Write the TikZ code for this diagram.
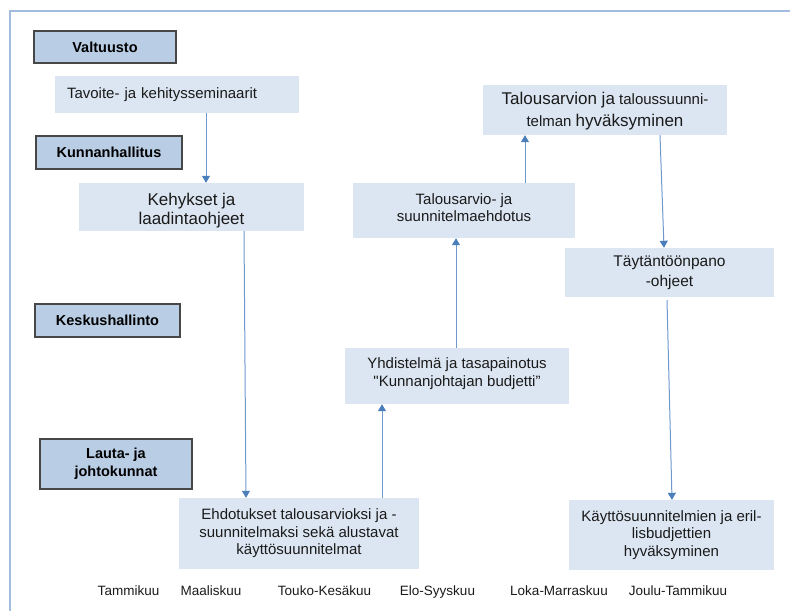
\documentclass[tikz,border=0pt]{standalone}
\usepackage{fontspec}
\setmainfont{Liberation Sans}[Ligatures=TeXOff]
\usetikzlibrary{arrows.meta}
\definecolor{headfill}{HTML}{B9CDE5}
\definecolor{boxfill}{HTML}{DCE6F2}
\definecolor{arrowblue}{HTML}{6F98CC}
\definecolor{headblue}{HTML}{4A7EBB}
\definecolor{frameblue}{HTML}{A2BCDD}
\definecolor{txt}{HTML}{1A1A1A}
\newcommand{\nf}{\fontsize{15}{17.5}\selectfont}
\newcommand{\bigf}{\fontsize{17}{19.5}\selectfont}
\tikzset{
  head/.style={draw=black!72, line width=1.2pt, fill=headfill, inner sep=0pt, align=center,
    font=\fontsize{14.5}{18}\selectfont\bfseries, text=black},
  stepbox/.style={fill=boxfill, inner sep=0pt, align=center, text=txt},
  boxtext/.style={inner sep=0pt, align=center, text=txt, font=\nf},
  month/.style={inner sep=0pt, anchor=base, font=\fontsize{13.5}{16}\selectfont, text=txt},
  arr/.style={draw=arrowblue, line width=1pt, -{Triangle[width=8pt,length=7pt,color=headblue]}},
  frame/.style={draw=frameblue, line width=1.4pt}
}
\begin{document}
\begin{tikzpicture}[x=1pt,y=-1pt]
\useasboundingbox (0,0) rectangle (790,611);
\draw[frame] (10,611) -- (10,11) -- (790,11);

% headings
\node[head, minimum width=142pt, minimum height=32pt] (valt) at (105,47) {Valtuusto};
\node[head, minimum width=146pt, minimum height=33pt] (kunn) at (109,152.5) {Kunnanhallitus};
\node[head, minimum width=145pt, minimum height=33pt] (kesk) at (107.5,320.5) {Keskushallinto};
\node[head, minimum width=152pt, minimum height=50pt] (laut) at (116,464) {Lauta- ja\\johtokunnat};

% step boxes
\node[stepbox, minimum width=244pt, minimum height=37pt, text width=220pt, inner xsep=12pt, align=left, font=\nf] (tav) at (177,94.5) {Tavoite- ja kehitysseminaarit};
\node[stepbox, minimum width=225pt, minimum height=48pt,
  label={[boxtext, font=\fontsize{17}{19}\selectfont, yshift=-4pt]center:Kehykset ja\\laadintaohjeet}] (keh) at (191.5,207) {};
\node[stepbox, minimum width=222pt, minimum height=55pt,
  label={[boxtext, yshift=3pt]center:Talousarvio- ja\\suunnitelmaehdotus}] (tae) at (464,210.5) {};
\node[stepbox, minimum width=244pt, minimum height=50pt,
  label={[boxtext, yshift=-1pt]center:{\bigf Talousarvion ja} taloussuunni-\\[4pt]telman {\bigf hyväksyminen}}] (hyv) at (605,110) {};
\node[stepbox, minimum width=209pt, minimum height=49pt, font=\fontsize{15.5}{20}\selectfont] (tay) at (669.5,272.5) {Täytäntöönpano\\-ohjeet};
\node[stepbox, minimum width=224pt, minimum height=56pt,
  label={[boxtext, yshift=2.5pt]center:Yhdistelmä ja tasapainotus\\"Kunnanjohtajan budjetti”}] (yhd) at (457,376) {};
\node[stepbox, minimum width=240pt, minimum height=71pt, font=\nf] (ehd) at (299,533.5) {Ehdotukset talousarvioksi ja -\\suunnitelmaksi sekä alustavat\\käyttösuunnitelmat};
\node[stepbox, minimum width=205pt, minimum height=70pt, font=\nf] (kay) at (671.5,535) {Käyttösuunnitelmien ja eril-\\lisbudjettien\\hyväksyminen};

% months
\node[month] (m1) at (128.5,595) {Tammikuu};
\node[month] (m2) at (211,595) {Maaliskuu};
\node[month] (m3) at (324.5,595) {Touko-Kesäkuu};
\node[month] (m4) at (437.5,595) {Elo-Syyskuu};
\node[month] (m5) at (559,595) {Loka-Marraskuu};
\node[month] (m6) at (678,595) {Joulu-Tammikuu};

% arrows
\draw[arr] ([xshift=29pt]tav.south) -- ([xshift=14.5pt]keh.north);
\draw[arr] ([xshift=52.5pt]keh.south) -- ([xshift=-53pt]ehd.north);
\draw[arr] ([xshift=83pt]ehd.north) -- ([xshift=-75pt]yhd.south);
\draw[arr] ([xshift=-1pt]yhd.north) -- ([xshift=-8pt]tae.south);
\draw[arr] ([xshift=61pt]tae.north) -- ([xshift=-80pt]hyv.south);
\draw[arr] ([xshift=55pt]hyv.south) -- ([xshift=-5.5pt]tay.north);
\draw[arr] ([xshift=-2.5pt,yshift=-3pt]tay.south) -- ([xshift=0.5pt]kay.north);
\end{tikzpicture}
\end{document}
